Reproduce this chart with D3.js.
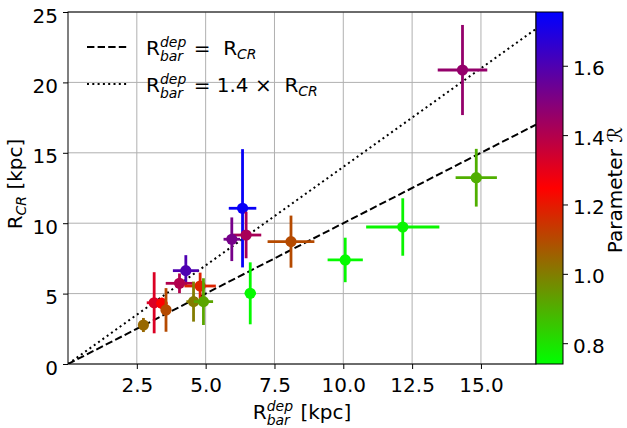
<!DOCTYPE html>
<html><head><meta charset="utf-8">
<script src="https://cdn.jsdelivr.net/npm/d3@7"></script>
<style>body{margin:0;background:#fff}svg{font-family:"DejaVu Sans",sans-serif}</style>
</head><body><svg id="c" width="627" height="428"></svg>
<script>
const xVals  = [14.33, 14.83, 12.16, 10.07, 8.10, 6.34, 6.47, 5.95, 4.28, 4.05, 4.80, 4.56, 4.92, 6.62, 3.13, 3.41, 3.56, 2.74];
const yVals  = [20.88, 13.23, 9.73, 7.39, 8.69, 11.06, 9.16, 8.86, 6.63, 5.73, 5.54, 4.43, 4.43, 5.02, 4.35, 4.31, 3.84, 2.77];
const xErr   = [0.90, 0.75, 1.33, 0.64, 0.85, 0.50, 0.55, 0.30, 0.47, 0.50, 0.57, 0.26, 0.35, 0.20, 0.27, 0.20, 0.15, 0.15];
const yErr   = [3.20, 2.05, 2.04, 1.58, 1.85, 4.20, 1.65, 1.55, 1.10, 0.70, 0.95, 1.42, 1.66, 2.20, 2.17, 0.40, 1.55, 0.50];
const param  = [1.46, 0.90, 0.76, 0.75, 1.10, 1.74, 1.42, 1.52, 1.60, 1.40, 1.18, 1.00, 0.92, 0.75, 1.32, 1.25, 1.10, 1.04];
const xTicks = [2.5, 5.0, 7.5, 10.0, 12.5, 15.0];
const yTicks = [0, 5, 10, 15, 20, 25];
const cTicks = [0.8, 1.0, 1.2, 1.4, 1.6];
const cDomain = [0.74, 1.755];

const FS = 20, FSS = 14;
const svg = d3.select("#c");
const L = 68, R = 536, T = 12, B = 364;
const x = d3.scaleLinear().domain([0, 17]).range([L, R]);
const y = d3.scaleLinear().domain([0, 25]).range([B, T]);
const cmid = (cDomain[0] + cDomain[1]) / 2;
const color = d3.scaleLinear().domain([cDomain[0], cmid, cDomain[1]]).range(["#00ff00", "#ff0000", "#0000ff"]).interpolate(d3.interpolateRgb);

// grid
const g = svg.append("g");
g.selectAll(".gx").data(xTicks).join("line").attr("x1", d => x(d)).attr("x2", d => x(d)).attr("y1", T).attr("y2", B).attr("stroke", "#b0b0b0").attr("stroke-width", 1);
g.selectAll(".gy").data(yTicks).join("line").attr("x1", L).attr("x2", R).attr("y1", d => y(d)).attr("y2", d => y(d)).attr("stroke", "#b0b0b0").attr("stroke-width", 1);

svg.append("clipPath").attr("id", "clip").append("rect").attr("x", L).attr("y", T).attr("width", R - L).attr("height", B - T);
const plot = svg.append("g").attr("clip-path", "url(#clip)");

const DASH = "7.4,3.2", DOT = "2,3.3";
plot.append("line").attr("x1", x(0)).attr("y1", y(0)).attr("x2", x(17)).attr("y2", y(17)).attr("stroke", "#000").attr("stroke-width", 2).attr("stroke-dasharray", DASH);
plot.append("line").attr("x1", x(0)).attr("y1", y(0)).attr("x2", x(17)).attr("y2", y(1.4 * 17)).attr("stroke", "#000").attr("stroke-width", 2).attr("stroke-dasharray", DOT);

// points
xVals.forEach((xv, i) => {
  const c = color(param[i]);
  const pg = plot.append("g");
  pg.append("line").attr("x1", x(xv - xErr[i])).attr("x2", x(xv + xErr[i])).attr("y1", y(yVals[i])).attr("y2", y(yVals[i])).attr("stroke", c).attr("stroke-width", 2.8);
  pg.append("line").attr("x1", x(xv)).attr("x2", x(xv)).attr("y1", y(yVals[i] - yErr[i])).attr("y2", y(yVals[i] + yErr[i])).attr("stroke", c).attr("stroke-width", 2.8);
  pg.append("circle").attr("cx", x(xv)).attr("cy", y(yVals[i])).attr("r", 5.6).attr("fill", c);
});

// axes
const xAxis = d3.axisBottom(x).tickValues(xTicks).tickFormat(d3.format(".1f")).tickSize(5).tickPadding(9);
const yAxis = d3.axisLeft(y).tickValues(yTicks).tickFormat(d3.format("d")).tickSize(5).tickPadding(5);
const xa = svg.append("g").attr("transform", `translate(0,${B})`).call(xAxis);
const ya = svg.append("g").attr("transform", `translate(${L},0)`).call(yAxis);
[xa, ya].forEach(a => { a.select(".domain").remove(); a.selectAll("text").attr("font-size", FS).attr("fill", "#000").attr("font-family", "DejaVu Sans"); a.selectAll("line").attr("stroke", "#000"); });
ya.selectAll("text").attr("dy", "0.5em");
svg.append("rect").attr("x", L).attr("y", T).attr("width", R - L).attr("height", B - T).attr("fill", "none").attr("stroke", "#000").attr("stroke-width", 1);

// rich text helper
function rich(parent, x0, y0, parts, anchor) {
  const t = parent.append("text").attr("font-size", FS).attr("fill", "#000");
  let cx = 0;
  parts.forEach(p => {
    if (p.kind === "n") {
      const s = t.append("tspan").attr("x", cx).attr("y", 0).text(p.t);
      cx += s.node().getComputedTextLength();
    } else if (p.kind === "sub") {
      const s = t.append("tspan").attr("x", cx).attr("y", 4).attr("font-size", FSS).attr("font-style", "italic").text(p.t);
      cx += s.node().getComputedTextLength();
    } else if (p.kind === "supsub") {
      const a = t.append("tspan").attr("x", cx).attr("y", -8).attr("font-size", FSS).attr("font-style", "italic").text(p.sup);
      const b = t.append("tspan").attr("x", cx).attr("y", 6).attr("font-size", FSS).attr("font-style", "italic").text(p.sub);
      cx += Math.max(a.node().getComputedTextLength(), b.node().getComputedTextLength()) + 1;
    }
  });
  let off = 0;
  if (anchor === "middle") off = -cx / 2;
  t.attr("transform", `translate(${x0 + off},${y0})`);
  return t;
}

// axis labels
rich(svg, 302, 419, [{t: "R", kind: "n"}, {sup: "dep", sub: "bar", kind: "supsub"}, {t: " [kpc]", kind: "n"}], "middle");
const ylg = svg.append("g").attr("transform", "translate(22,184) rotate(-90)");
rich(ylg, 0, 0, [{t: "R", kind: "n"}, {t: "CR", kind: "sub"}, {t: " [kpc]", kind: "n"}], "middle");

// legend
const lg = svg.append("g");
lg.append("line").attr("x1", 87).attr("x2", 127).attr("y1", 47).attr("y2", 47).attr("stroke", "#000").attr("stroke-width", 2).attr("stroke-dasharray", DASH);
lg.append("line").attr("x1", 87).attr("x2", 127).attr("y1", 84).attr("y2", 84).attr("stroke", "#000").attr("stroke-width", 2).attr("stroke-dasharray", DOT);
rich(lg, 146, 55, [{t: "R", kind: "n"}, {sup: "dep", sub: "bar", kind: "supsub"}, {t: "\u00a0=\u00a0\u00a0R", kind: "n"}, {t: "CR", kind: "sub"}]);
rich(lg, 146, 92, [{t: "R", kind: "n"}, {sup: "dep", sub: "bar", kind: "supsub"}, {t: "\u00a0=\u00a01.4\u00a0×\u00a0\u00a0R", kind: "n"}, {t: "CR", kind: "sub"}]);

// colorbar
const cb = svg.append("g");
const cx0 = 536, cx1 = 563;
const cy = d3.scaleLinear().domain(cDomain).range([B, T]);
const grad = svg.append("defs").append("linearGradient").attr("id", "cg").attr("x1", 0).attr("y1", 1).attr("x2", 0).attr("y2", 0);
d3.range(0, 1.0001, 0.05).forEach(t => grad.append("stop").attr("offset", t).attr("stop-color", color(cDomain[0] + t * (cDomain[1] - cDomain[0]))));
cb.append("rect").attr("x", cx0).attr("y", T).attr("width", cx1 - cx0).attr("height", B - T).attr("fill", "url(#cg)").attr("stroke", "#000").attr("stroke-width", 1);
const ca = cb.append("g").attr("transform", `translate(${cx1},0)`).call(d3.axisRight(cy).tickValues(cTicks).tickFormat(d3.format(".1f")).tickSize(5).tickPadding(5));
ca.select(".domain").remove();
ca.selectAll("text").attr("font-size", FS).attr("fill", "#000").attr("font-family", "DejaVu Sans").attr("dy", "0.45em");
ca.selectAll("line").attr("stroke", "#000");
const cl = svg.append("text").attr("transform", "translate(622,190) rotate(-90)").attr("text-anchor", "middle").attr("font-size", FS);
cl.append("tspan").text("Parameter ");
cl.append("tspan").attr("font-style", "italic").text("ℛ");
</script></body></html>
